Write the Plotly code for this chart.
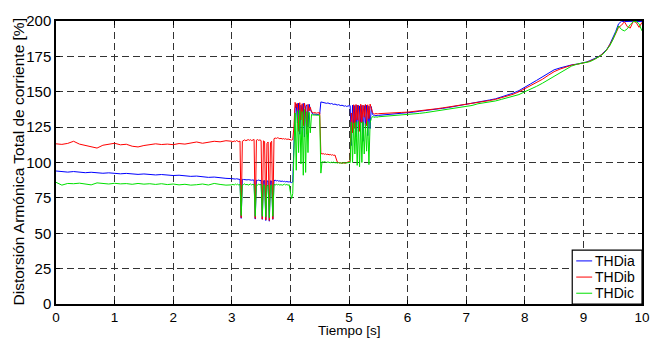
import numpy as np
import plotly.graph_objects as go

# ---- time bases (s) ----
t_a = np.round(np.linspace(0.0, 2.9, 30), 3)
t_b = np.round(np.linspace(3.0, 5.48, 125), 3)
t_c = np.round(np.linspace(5.5, 9.0, 36), 3)
t_d = np.round(np.linspace(9.05, 10.0, 20), 3)

# ---- THDia (blue) ----
thd_a_seg_a = [94.0, 93.4, 93.2, 93.6, 93.0, 92.8, 93.1, 92.6, 92.4, 92.7,
               92.2, 92.0, 92.3, 91.8, 91.6, 91.9, 91.4, 91.2, 91.5, 91.0,
               90.8, 91.0, 90.5, 90.2, 90.4, 89.8, 89.5, 89.7, 89.1, 88.8]
thd_a_seg_b = [88.6, 88.4, 88.7, 88.3, 88.5, 88.2, 88.4, 88.0, 60.5, 88.1,
               88.0, 87.8, 88.1, 87.7, 87.9, 87.6, 87.8, 87.5, 87.7, 87.4,
               60.0, 87.5, 87.3, 87.6, 87.2, 87.4, 59.8, 87.1, 87.3, 59.0,
               87.0, 86.8, 58.5, 87.1, 86.9, 59.8, 87.2, 87.5, 87.0, 87.3,
               86.8, 87.0, 86.6, 86.9, 86.5, 86.7, 86.3, 86.6, 86.2, 86.4,
               86.0, 85.8, 86.2, 110.0, 138.0, 141.5, 128.0, 142.0, 120.0, 140.5,
               136.0, 141.8, 118.0, 139.5, 140.8, 125.0, 141.2, 137.5, 135.5, 134.2,
               134.0, 134.3, 133.8, 134.1, 133.9, 134.2, 142.8, 142.5, 142.2, 142.4,
               142.0, 141.8, 142.1, 141.6, 141.4, 141.7, 141.2, 141.0, 141.3, 140.8,
               140.6, 140.9, 140.4, 140.2, 140.5, 140.0, 139.8, 140.1, 139.6, 139.9,
               139.8, 140.2, 112.0, 140.5, 125.0, 140.3, 118.0, 140.6, 122.0, 140.0,
               128.0, 140.4, 115.0, 140.2, 126.0, 140.5, 119.0, 139.8, 124.0, 139.5,
               134.0, 133.2, 132.9, 133.3, 133.0]
thd_a_seg_c = [133.3, 133.6, 134.0, 134.3, 134.8, 135.3, 135.6, 136.2, 136.6, 137.3,
               137.8, 138.3, 138.9, 139.6, 140.2, 141.0, 141.8, 142.6, 143.4, 144.2,
               145.0, 146.3, 147.5, 149.0, 150.8, 153.5, 155.6, 158.0, 160.5, 163.0,
               165.5, 166.8, 168.0, 169.0, 169.6, 170.4]
thd_a_seg_d = [171.0, 171.8, 172.6, 173.5, 174.6, 176.0, 177.8, 180.0, 183.5, 187.5,
               192.5, 198.0, 199.8, 199.6, 199.8, 199.5, 199.8, 199.6, 199.8, 199.6]

# ---- THDib (red) ----
thd_b_seg_a = [113.2, 112.8, 113.5, 115.0, 113.0, 112.0, 111.0, 110.2, 112.2, 112.8,
               113.6, 112.5, 112.9, 111.5, 111.0, 112.0, 112.5, 113.2, 112.7, 113.0,
               112.6, 113.4, 113.0, 113.8, 114.5, 113.6, 114.2, 115.0, 114.6, 115.4]
thd_b_seg_b = [115.0, 114.6, 115.3, 114.8, 115.5, 115.1, 114.7, 115.2, 61.0, 115.0,
               115.6, 116.0, 115.4, 115.8, 116.2, 115.7, 116.1, 115.5, 115.9, 116.3,
               60.5, 115.8, 116.2, 115.6, 116.0, 115.5, 60.0, 115.3, 114.8, 59.5,
               113.5, 114.5, 59.0, 114.0, 115.0, 60.0, 116.8, 117.3, 117.0, 117.5,
               117.2, 116.8, 117.1, 116.6, 116.9, 116.5, 116.8, 116.3, 116.6, 116.2,
               116.0, 115.8, 116.2, 125.0, 142.5, 139.0, 141.8, 122.0, 142.3, 130.0,
               141.5, 126.0, 142.0, 138.0, 120.0, 141.0, 136.5, 139.0, 135.8, 135.2,
               135.0, 135.3, 134.8, 135.1, 134.9, 135.2, 106.5, 106.0, 106.3, 105.8,
               106.1, 105.6, 105.9, 105.4, 105.7, 105.2, 105.5, 105.0, 105.3, 102.5,
               100.4, 100.0, 99.7, 99.9, 99.5, 99.8, 99.4, 99.6, 99.9, 100.3,
               100.6, 101.0, 135.0, 121.0, 140.8, 124.0, 141.0, 130.0, 140.5, 122.0,
               141.2, 128.0, 140.6, 132.0, 141.0, 126.0, 140.8, 131.0, 141.3, 137.0,
               135.5, 134.6, 134.2, 134.7, 134.3]
thd_b_seg_c = [134.5, 134.6, 135.0, 135.1, 135.4, 135.6, 136.0, 136.5, 137.0, 137.5,
               138.0, 138.6, 139.2, 139.8, 140.3, 141.0, 141.7, 142.5, 143.0, 143.8,
               144.6, 145.7, 146.8, 148.2, 150.0, 152.3, 154.2, 156.3, 158.8, 161.6,
               164.2, 166.0, 167.6, 168.8, 169.5, 170.2]
thd_b_seg_d = [170.8, 171.5, 172.2, 173.2, 174.4, 175.8, 177.5, 179.6, 182.8, 186.8,
               191.0, 195.5, 197.0, 199.5, 196.0, 195.0, 199.8, 199.0, 195.5, 199.0]

# ---- THDic (green) ----
thd_c_seg_a = [86.0, 84.0, 85.2, 85.0, 85.4, 84.8, 84.2, 85.6, 85.0, 84.8,
               85.3, 84.9, 85.1, 84.6, 85.2, 84.7, 85.0, 84.5, 85.0, 84.4,
               84.8, 84.2, 84.6, 84.0, 84.3, 84.8, 84.1, 85.2, 84.5, 84.0]
thd_c_seg_b = [84.2, 84.6, 84.0, 84.8, 84.3, 84.7, 84.1, 84.5, 62.5, 84.0,
               84.4, 84.9, 84.2, 84.6, 84.0, 84.5, 84.8, 84.1, 84.6, 84.2,
               62.0, 84.4, 84.0, 84.7, 84.2, 84.6, 62.0, 84.3, 83.8, 61.5,
               83.5, 84.0, 61.0, 83.6, 84.2, 62.0, 84.5, 84.1, 84.6, 84.2,
               84.5, 84.0, 84.4, 83.9, 84.3, 84.7, 84.1, 84.5, 83.9, 84.3,
               79.0, 74.5, 78.0, 105.0, 135.0, 94.5, 136.5, 107.0, 137.0, 99.0,
               136.0, 91.0, 137.5, 93.0, 136.0, 107.0, 135.5, 121.0, 134.0, 133.6,
               133.5, 133.8, 133.3, 133.6, 133.2, 133.4, 92.5, 100.5, 100.2, 100.6,
               100.3, 100.0, 100.4, 100.1, 99.8, 100.2, 99.9, 100.3, 99.7, 100.0,
               99.6, 99.9, 99.5, 99.8, 99.4, 99.7, 100.0, 99.6, 99.9, 100.1,
               100.0, 99.8, 128.5, 100.0, 128.0, 106.0, 128.8, 98.0, 129.0, 97.0,
               128.5, 100.0, 128.8, 106.0, 127.5, 108.0, 129.0, 98.5, 128.0, 131.0,
               132.5, 132.2, 131.9, 132.3, 132.0]
thd_c_seg_c = [132.3, 132.6, 132.9, 133.1, 133.4, 133.8, 134.2, 134.7, 135.2, 135.8,
               136.6, 137.2, 137.8, 138.4, 138.9, 139.2, 140.3, 141.5, 142.0, 142.8,
               143.5, 144.6, 145.8, 146.8, 148.0, 150.0, 151.8, 153.8, 156.0, 158.5,
               161.0, 163.6, 166.0, 168.2, 169.6, 170.3]
thd_c_seg_d = [170.6, 171.2, 172.0, 173.0, 174.2, 175.6, 177.2, 179.5, 182.5, 186.5,
               191.5, 196.5, 194.0, 193.0, 194.5, 197.5, 199.5, 199.8, 198.0, 193.0]

x_ticks = list(range(0, 11))
y_ticks = list(range(0, 201, 25))

t_all = np.concatenate([t_a, t_b, t_c, t_d])
series = [
    ("THDia", "#0000ff", thd_a_seg_a + thd_a_seg_b + thd_a_seg_c + thd_a_seg_d),
    ("THDib", "#ff0000", thd_b_seg_a + thd_b_seg_b + thd_b_seg_c + thd_b_seg_d),
    ("THDic", "#00e000", thd_c_seg_a + thd_c_seg_b + thd_c_seg_c + thd_c_seg_d),
]

fig = go.Figure()
for name, color, vals in series:
    assert len(vals) == len(t_all), (name, len(vals), len(t_all))
    fig.add_trace(go.Scatter(x=t_all, y=vals, mode="lines", name=name,
                             line=dict(color=color, width=1), showlegend=False))

font_family = "Liberation Sans, Arial, Helvetica, sans-serif"
axis_common = dict(
    showline=True, linecolor="black", linewidth=1.5, mirror="ticks",
    ticks="inside", ticklen=4, tickcolor="black",
    showgrid=True, gridcolor="#333333", gridwidth=1, griddash="7px,4px",
    zeroline=False,
)
fig.update_xaxes(range=[0, 10], tickvals=x_ticks,
                 tickfont=dict(size=13.5, color="black", family=font_family), **axis_common)
fig.update_yaxes(range=[0, 200], tickvals=y_ticks,
                 tickfont=dict(size=15, color="black", family=font_family), **axis_common)

# ---- legend box (drawn in paper coordinates, bottom-right corner of axes) ----
PLOT_LEFT, PLOT_BOTTOM = 56.0, 304.0
PLOT_W, PLOT_H = 588.0, 289.0
def px_x(p):
    return (p - PLOT_LEFT) / PLOT_W
def px_y(p):
    return (PLOT_BOTTOM - p) / PLOT_H

shapes = [dict(type="rect", xref="paper", yref="paper",
               x0=px_x(574), x1=1.0, y0=0.0, y1=px_y(249),
               line=dict(color="black", width=1.2), fillcolor="white", layer="above")]
annotations = []
legend_rows = [260.0, 276.5, 293.0]
for (name, color, _), row in zip(series, legend_rows):
    shapes.append(dict(type="line", xref="paper", yref="paper",
                       x0=px_x(578), x1=px_x(594), y0=px_y(row), y1=px_y(row),
                       line=dict(color=color, width=1), layer="above"))
    annotations.append(dict(text=name, xref="paper", yref="paper",
                            x=px_x(595.5), y=px_y(row), xanchor="left", yanchor="middle",
                            showarrow=False, borderpad=0,
                            font=dict(size=14, color="black")))

annotations += [
    dict(text="Distorsión Armónica Total de corriente [%]", xref="paper", yref="paper",
         x=0, y=0.5, xshift=-38, textangle=-90, showarrow=False, borderpad=0,
         xanchor="center", yanchor="middle", font=dict(size=15.5, color="black")),
    dict(text="Tiempo [s]", xref="paper", yref="paper", x=0.5, y=0, yshift=-26.5,
         showarrow=False, xanchor="center", yanchor="middle", borderpad=0,
         font=dict(size=13.5, color="black")),
]

fig.update_layout(
    width=662, height=338,
    margin=dict(l=56, r=18, t=15, b=34),
    paper_bgcolor="white", plot_bgcolor="white",
    font=dict(family=font_family, color="black"),
    showlegend=False,
    shapes=shapes,
    annotations=annotations,
)

fig.write_html("out.html")
